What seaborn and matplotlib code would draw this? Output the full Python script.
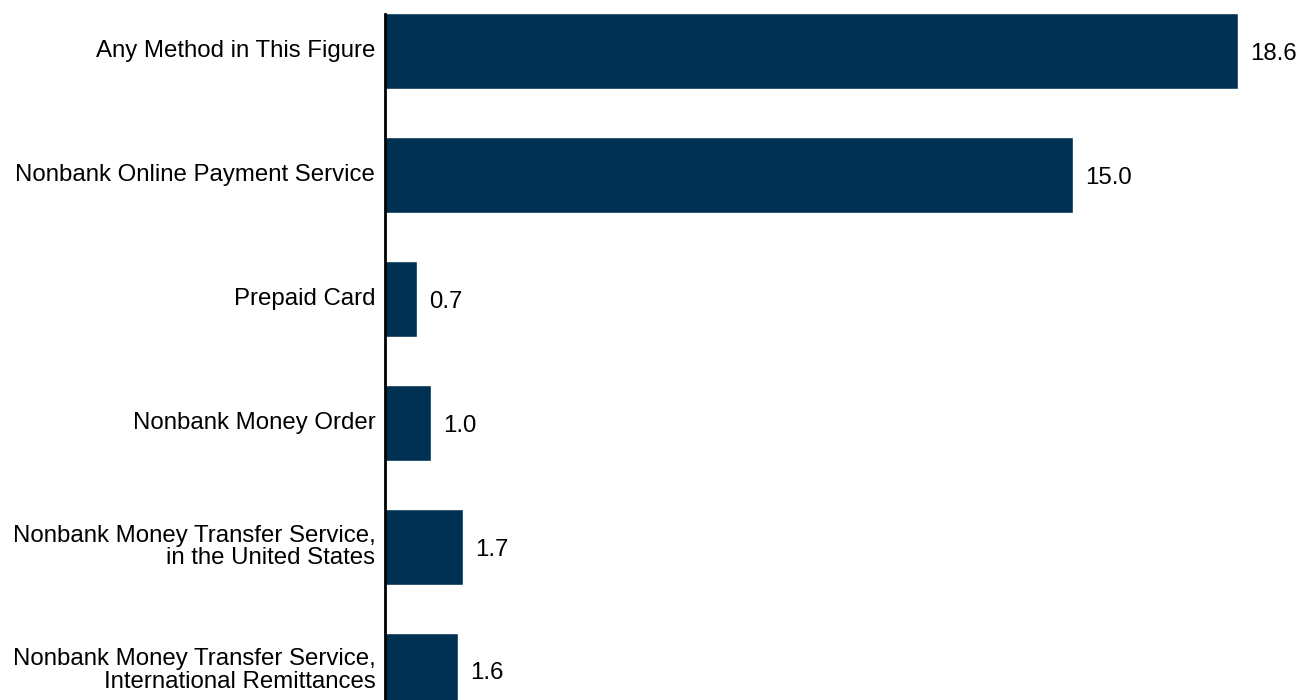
import numpy as np
import pandas as pd
import seaborn as sns
import matplotlib.pyplot as plt
import matplotlib.transforms as mtransforms

categories = ["Any Method in This Figure",
              "Nonbank Online Payment Service",
              "Prepaid Card",
              "Nonbank Money Order",
              "Nonbank Money Transfer Service,\nin the United States",
              "Nonbank Money Transfer Service,\nInternational Remittances"]
values = [18.6, 15.0, 0.7, 1.0, 1.7, 1.6]

df = pd.DataFrame({'category': categories, 'value': values})

sns.set_style("white")
plt.rcParams['font.family'] = ['Liberation Sans', 'DejaVu Sans']

fig = plt.figure(figsize=(12.99, 7.0), dpi=100)
ax = fig.add_axes([385/1299, 0, 1 - 385/1299, 686/700])

sns.barplot(data=df, x='value', y='category', color='#003153', width=0.61,
            saturation=1, ax=ax, orient='h')

for i, v in enumerate(values):
    ax.text(v + 0.26, i + 0.02, f"{v:.1f}", va='center', ha='left', fontsize=17.3, color='black')

ax.set_xlim(0, 19.93)
ax.set_ylim(5.234, -0.3)
ax.set_xlabel('')
ax.set_ylabel('')
ax.set_xticks([])
ax.tick_params(axis='y', length=0, pad=7, labelsize=17.3, labelcolor='black')
shift = mtransforms.ScaledTranslation(0, 3/100, fig.dpi_scale_trans)
for lbl in ax.get_yticklabels():
    lbl.set_horizontalalignment('right')
    lbl.set_multialignment('right')
    lbl.set_linespacing(1.05)
    lbl.set_transform(lbl.get_transform() + shift)
for s in ['top', 'right', 'bottom']:
    ax.spines[s].set_visible(False)
ax.spines['left'].set_color('black')
ax.spines['left'].set_linewidth(2)

fig.savefig('out.png', dpi=100)
